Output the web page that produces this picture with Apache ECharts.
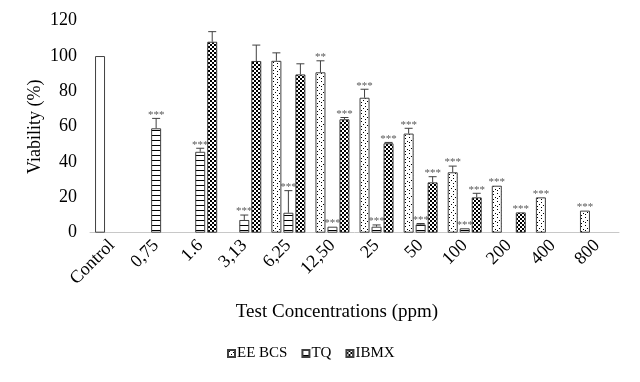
<!DOCTYPE html>
<html><head><meta charset="utf-8">
<script src="https://cdn.jsdelivr.net/npm/echarts@6/dist/echarts.min.js"></script>
<style>html,body{margin:0;padding:0;background:#fff}#c{width:640px;height:382px}</style>
</head><body><div id="c"></div>
<script>
const categories = ['Control','0,75','1.6','3,13','6,25','12,50','25','50','100','200','400','800'];
const yTicks = [0,20,40,60,80,100,120];
const seriesNames = ['EE BCS','TQ','IBMX'];
const eeBcs    = [100, null, null, null, 97.3, 90.8, 76.4, 56.1, 34.2, 26.6, 20.0, 12.5];
const eeBcsErr = [0,   null, null, null, 4.5,  6.5,  4.8,  3.0,  3.5,  0,    0,    0];
const eeBcsSig = ['',  '',   '',   '',   '',   '**', '***','***','***','***','***','***'];
const tq       = [null, 59.1, 45.8, 7.2, 11.3, 3.4, 3.4, 4.7, 2.5, null, null, null];
const tqErr    = [null, 5.6,  2.0,  2.8, 12.5, 0,   1.0, 0.5, 0,   null, null, null];
const tqSig    = ['',  '***','***','***','***','***','***','***','***','', '', ''];
const ibmx     = [null, null, 108.1, 97.2, 89.6, 64.2, 50.6, 28.5, 20.0, 11.5, null, null];
const ibmxErr  = [null, null, 5.7,   9.0,  6.0,  1.0,  0.5,  3.2,  2.3,  0,    null, null];
const ibmxSig  = ['',  '',   '',    '',   '',   '***','***','***','***','***','', ''];

const BAR_W = 10, BAR_GAP = 2;
const FONT = '"Liberation Serif","Times New Roman",serif';

function makePattern(type){
  const c = document.createElement('canvas');
  const ctx = c.getContext('2d');
  if (type === 'dots') {
    c.width = 8; c.height = 8;
    ctx.fillStyle = '#fff'; ctx.fillRect(0,0,8,8);
    ctx.fillStyle = '#000';
    [[1,1],[5,2],[3,4],[7,5],[1,6],[5,7]].forEach(function(p){ ctx.fillRect(p[0],p[1],1,1); });
  } else if (type === 'hlines') {
    c.width = 4; c.height = 5;
    ctx.fillStyle = '#fff'; ctx.fillRect(0,0,4,5);
    ctx.fillStyle = '#000'; ctx.fillRect(0,0,4,1);
  } else {
    c.width = 4; c.height = 4;
    ctx.fillStyle = '#000'; ctx.fillRect(0,0,4,4);
    ctx.fillStyle = '#fff'; ctx.fillRect(0,0,2,2); ctx.fillRect(2,2,2,2);
  }
  return {image: c, repeat: 'repeat'};
}
const patterns = [makePattern('dots'), makePattern('hlines'), makePattern('checker')];

const values = [eeBcs, tq, ibmx];
const errs = [eeBcsErr, tqErr, ibmxErr];
const sigs = [eeBcsSig, tqSig, ibmxSig];

const errItems = [];
const errData = [];
for (let s = 0; s < 3; s++) {
  for (let i = 0; i < categories.length; i++) {
    if (values[s][i] == null) continue;
    errData.push([i, values[s][i], errs[s][i] || 0, s]);
    errItems.push(sigs[s][i]);
  }
}

const barSeries = seriesNames.map(function(name, s){
  return {
    name: name,
    type: 'bar',
    barWidth: BAR_W,
    barGap: (BAR_GAP / BAR_W * 100) + '%',
    itemStyle: {color: patterns[s], borderColor: '#404040', borderWidth: 1},
    data: values[s].map(function(v, i){
      if (s === 0 && i === 0) return {value: v, itemStyle: {color: '#ffffff'}};
      return v == null ? '-' : v;
    })
  };
});

const chart = echarts.init(document.getElementById('c'), null, {renderer: 'canvas'});
chart.setOption({
  animation: false,
  backgroundColor: '#fff',
  textStyle: {fontFamily: FONT},
  title: {
    text: 'Test Concentrations (ppm)',
    left: 332, top: 298, textAlign: 'center',
    textStyle: {fontFamily: FONT, fontSize: 19, fontWeight: 'normal', color: '#000'}
  },
  legend: {
    data: seriesNames,
    top: 341, left: 222,
    icon: 'rect', itemWidth: 7, itemHeight: 7, itemGap: 14,
    textStyle: {fontFamily: FONT, fontSize: 15, color: '#000', padding: [0,0,0,-3]}
  },
  grid: {left: 90, right: 21, top: 20.7, bottom: 149.3, containLabel: false},
  xAxis: {
    type: 'category', data: categories,
    axisTick: {show: false},
    axisLine: {lineStyle: {color: '#c8c8c8', width: 1}},
    axisLabel: {rotate: 45, margin: 10, fontFamily: FONT, fontSize: 18, color: '#000', interval: 0}
  },
  yAxis: {
    type: 'value', min: yTicks[0], max: yTicks[yTicks.length-1], interval: yTicks[1]-yTicks[0],
    name: 'Viability (%)', nameLocation: 'middle', nameGap: 46, nameMoveOverlap: false,
    nameTextStyle: {fontFamily: FONT, fontSize: 18, color: '#000'},
    axisLine: {show: false}, axisTick: {show: false}, splitLine: {show: false},
    axisLabel: {fontFamily: FONT, fontSize: 18, color: '#000', margin: 13}
  },
  series: barSeries.concat([{
    type: 'custom',
    name: 'err',
    z: 5,
    data: errData,
    encode: {x: 0, y: 1},
    renderItem: function(params, api){
      const ci = api.value(0), v = api.value(1), e = api.value(2), s = api.value(3);
      const p = api.coord([ci, v]);
      const x = p[0] + (s - 1) * (BAR_W + BAR_GAP);
      const top = api.coord([ci, v + e])[1];
      const children = [];
      if (e > 0) {
        children.push({type: 'line', shape: {x1: x, y1: p[1], x2: x, y2: top}, style: {stroke: '#404040', lineWidth: 1}});
        children.push({type: 'line', shape: {x1: x - 4, y1: top, x2: x + 4, y2: top}, style: {stroke: '#404040', lineWidth: 1}});
      }
      const sig = errItems[params.dataIndex];
      if (sig) {
        children.push({type: 'text', style: {text: sig, x: x, y: top + 2, align: 'center', verticalAlign: 'bottom', fill: '#595959', font: '11px ' + FONT}});
      }
      return {type: 'group', children: children};
    }
  }])
});
</script></body></html>
